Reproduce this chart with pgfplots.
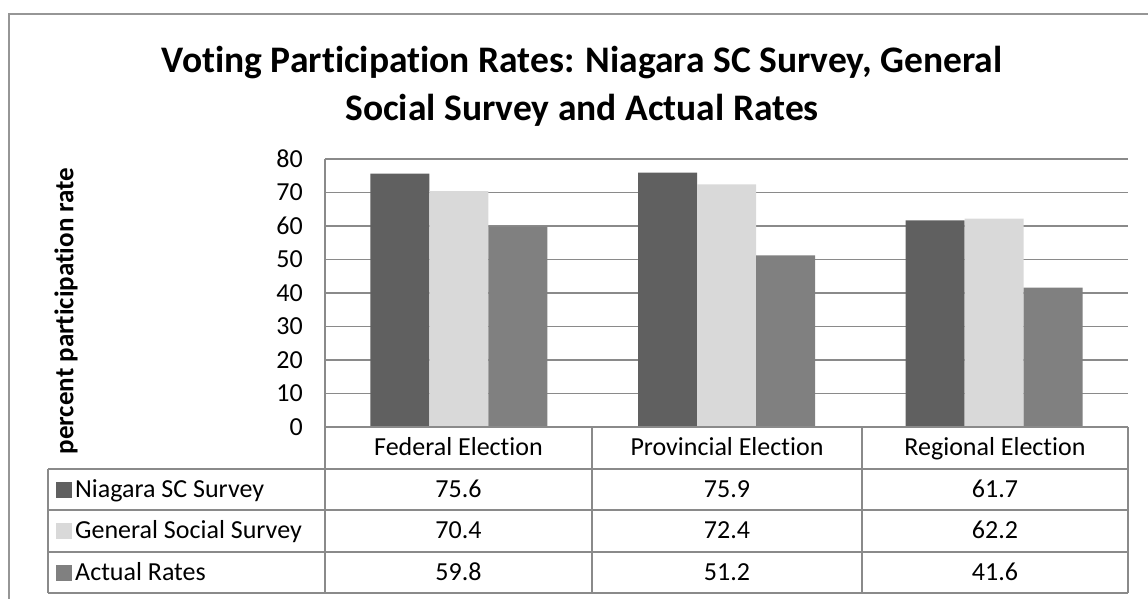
\documentclass[border=0pt]{standalone}
\usepackage{pgfplots}
\pgfplotsset{compat=1.18}
\usepackage{pgfplotstable}
\usepackage{fontspec}
\setmainfont{Carlito}[Ligatures=NoCommon]
\definecolor{cDark}{HTML}{606060}
\definecolor{cLight}{HTML}{D9D9D9}
\definecolor{cMid}{HTML}{808080}
\definecolor{gridc}{HTML}{8A8A8A}
\pgfplotstableread{
x niagara gss actual
0.5 75.6 70.4 59.8
1.5 75.9 72.4 51.2
2.5 61.7 62.2 41.6
}\datatable
\begin{document}
\begin{tikzpicture}[x=1pt,y=1pt]
\useasboundingbox (0,0) rectangle (1148,599);
\draw[color=gridc!90, line width=1.5pt] (9,-20) rectangle (1170,585);
\node[font=\fontsize{37.5}{48}\selectfont\bfseries, align=center] at (582,513) {Voting Participation Rates: Niagara SC Survey, General\\Social Survey and Actual Rates};
\node[font=\fontsize{27}{30}\selectfont\bfseries, rotate=90] at (66,288) {percent participation rate};
\begin{axis}[
  at={(325pt,172pt)}, anchor=south west, scale only axis,
  width=803pt, height=268pt,
  xmin=0, xmax=3, ymin=0, ymax=80, ytick={0,10,...,80}, xtick=\empty,
  ybar=0pt, bar width=59pt,
  ymajorgrids, grid style={gridc, line width=1.5pt},
  axis x line=none, axis y line*=left,
  y axis line style={gridc, line width=1.5pt},
  major tick length=0pt,
  /pgf/number format/assume math mode=true,
  yticklabel style={font=\fontsize{26}{30}\selectfont, anchor=east, inner sep=0pt, xshift=-22pt},
  clip=false,
]
\addplot[fill=cDark, draw=none] table[x=x, y=niagara] {\datatable};
\addplot[fill=cLight, draw=none] table[x=x, y=gss] {\datatable};
\addplot[fill=cMid, draw=none] table[x=x, y=actual] {\datatable};
\end{axis}
% data table
\begin{scope}[gridc, line width=1.5pt]
\draw (325,172) -- (1128,172);
\foreach \yy in {130,89,47,6} \draw (48,\yy) -- (1128,\yy);
\draw (48,130) -- (48,6);
\foreach \xx in {325,592,862,1128} \draw (\xx,172) -- (\xx,6);
\end{scope}
\begin{scope}[font=\fontsize{26}{30}\selectfont, every node/.style={anchor=base, inner sep=0pt}]
\node at (458.5,143) {Federal Election};
\node at (727,143) {Provincial Election};
\node at (995,143) {Regional Election};
\fill[cDark] (56,101) rectangle (72,117);
\fill[cLight] (56,60) rectangle (72,76);
\fill[cMid] (56,18) rectangle (72,34);
\node[anchor=base west] at (75,101.5) {Niagara SC Survey};
\node[anchor=base west] at (75,60.5) {General Social Survey};
\node[anchor=base west] at (75,18.5) {Actual Rates};
\node at (458.5,101.5) {75.6}; \node at (727,101.5) {75.9}; \node at (995,101.5) {61.7};
\node at (458.5,60.5) {70.4}; \node at (727,60.5) {72.4}; \node at (995,60.5) {62.2};
\node at (458.5,18.5) {59.8}; \node at (727,18.5) {51.2}; \node at (995,18.5) {41.6};
\end{scope}
\end{tikzpicture}
\end{document}
